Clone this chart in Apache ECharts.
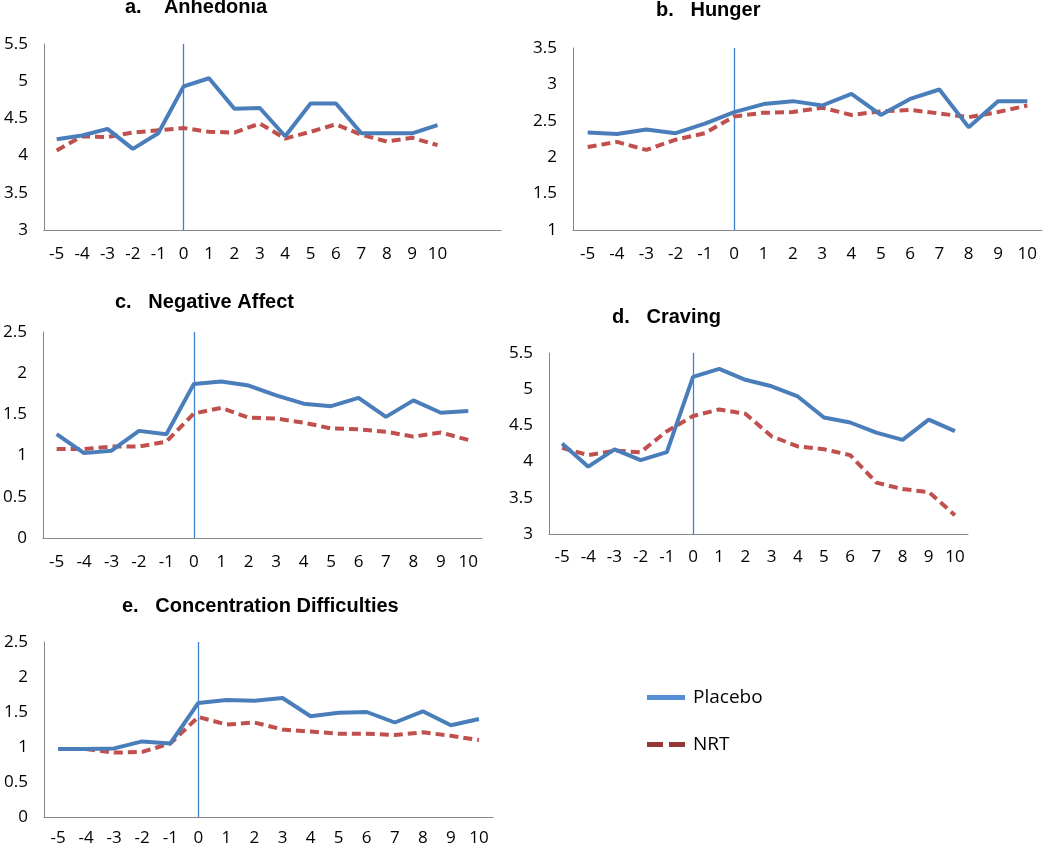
<!DOCTYPE html>
<html><head><meta charset="utf-8">
<script src="https://cdn.jsdelivr.net/npm/echarts@6/dist/echarts.min.js"></script>
<style>html,body{margin:0;padding:0;background:#fff}#c{width:1050px;height:847px}</style>
</head><body><div id="c"></div>
<script>
const xLabels = ['-5','-4','-3','-2','-1','0','1','2','3','4','5','6','7','8','9','10'];
const xLabelsA = ['-5','-4','-3','-2','-1','0','1','2','3','4','5','6','7','8','9','10','',''];
const titles = ['a.    Anhedonia','b.   Hunger','c.   Negative Affect','d.   Craving','e.   Concentration Difficulties'];
const yMins = [3, 1, 0, 3, 0];
const yMaxs = [5.5, 3.5, 2.5, 5.5, 2.5];
const anhedoniaPlacebo = [4.22,4.27,4.36,4.09,4.30,4.93,5.04,4.63,4.64,4.26,4.70,4.70,4.30,4.30,4.30,4.41];
const anhedoniaNRT     = [4.07,4.26,4.25,4.31,4.34,4.37,4.32,4.31,4.43,4.23,4.32,4.42,4.28,4.19,4.24,4.14];
const hungerPlacebo = [2.34,2.32,2.38,2.33,2.46,2.62,2.73,2.77,2.71,2.87,2.58,2.80,2.93,2.41,2.77,2.77];
const hungerNRT     = [2.14,2.21,2.10,2.24,2.33,2.56,2.61,2.62,2.68,2.58,2.63,2.65,2.60,2.55,2.62,2.71];
const negAffectPlacebo = [1.26,1.03,1.06,1.30,1.26,1.87,1.90,1.85,1.73,1.63,1.60,1.70,1.47,1.67,1.52,1.54];
const negAffectNRT     = [1.08,1.08,1.11,1.11,1.17,1.51,1.58,1.46,1.45,1.40,1.33,1.32,1.29,1.23,1.28,1.19];
const cravingPlacebo = [4.25,3.93,4.17,4.02,4.13,5.17,5.28,5.13,5.04,4.90,4.61,4.54,4.40,4.30,4.58,4.42];
const cravingNRT     = [4.19,4.09,4.15,4.13,4.42,4.63,4.72,4.66,4.35,4.21,4.17,4.09,3.71,3.62,3.58,3.26];
const concPlacebo = [0.97,0.97,0.98,1.08,1.05,1.63,1.67,1.66,1.70,1.44,1.49,1.50,1.35,1.51,1.31,1.40];
const concNRT     = [0.97,0.97,0.92,0.93,1.05,1.43,1.32,1.35,1.25,1.22,1.19,1.19,1.17,1.21,1.16,1.10];

const placeboSets = [anhedoniaPlacebo, hungerPlacebo, negAffectPlacebo, cravingPlacebo, concPlacebo];
const nrtSets = [anhedoniaNRT, hungerNRT, negAffectNRT, cravingNRT, concNRT];
const catSets = [xLabelsA, xLabels, xLabels, xLabels, xLabels];

const grids = [
  {left:44, top:44, width:457, height:186},
  {left:573, top:48, width:469, height:182},
  {left:40, top:332, width:442, height:206},
  {left:549, top:353, width:419, height:181},
  {left:44, top:642, width:449, height:176}
];
const titlePos = [[125,-3],[656,0],[115,292],[612,307],[122,596]];
const xLabelMargin = [16,16,16,15,13];

const BLUE = '#4a7ebb', RED = '#c0504d', AX = '#868686';
const FONT = '"Open Sans", "Liberation Sans", sans-serif';

const xAxis = [], yAxis = [], series = [], title = [];
for (let i = 0; i < 5; i++) {
  title.push({text: titles[i], left: titlePos[i][0], top: titlePos[i][1], padding: 0,
    textStyle: {fontFamily: '"Liberation Sans", Arial, sans-serif', fontWeight: 'bold', fontSize: 20, color: '#000'}});
  xAxis.push({type: 'category', gridIndex: i, data: catSets[i], boundaryGap: true,
    axisLine: {show: true, lineStyle: {color: AX, width: 1}}, axisTick: {show: false},
    axisLabel: {interval: 0, margin: xLabelMargin[i], color: '#000', fontSize: 17, fontFamily: FONT},
    splitLine: {show: false}});
  yAxis.push({type: 'value', gridIndex: i, min: yMins[i], max: yMaxs[i], interval: 0.5,
    axisLine: {show: true, lineStyle: {color: AX, width: 1}}, axisTick: {show: false},
    axisLabel: {margin: 16, color: '#000', fontSize: 17, fontFamily: FONT},
    splitLine: {show: false}});
  series.push({name: 'NRT', type: 'line', xAxisIndex: i, yAxisIndex: i, data: nrtSets[i],
    symbol: 'none', z: 3,
    lineStyle: {color: RED, width: 4, type: [9, 5]}, itemStyle: {color: RED}});
  series.push({name: 'Placebo', type: 'line', xAxisIndex: i, yAxisIndex: i, data: placeboSets[i],
    symbol: 'none', z: 4,
    lineStyle: {color: BLUE, width: 4}, itemStyle: {color: BLUE},
    markLine: {silent: true, symbol: ['none','none'], label: {show: false}, z: 2,
      lineStyle: {color: '#3f7fd0', width: 1.3, type: 'solid', opacity: 1},
      emphasis: {disabled: true},
      data: [{xAxis: catSets[i].indexOf('0')}], animation: false}});
}

const chart = echarts.init(document.getElementById('c'), null, {renderer: 'canvas'});
chart.setOption({
  animation: false,
  backgroundColor: '#fff',
  title: title,
  grid: grids,
  xAxis: xAxis,
  yAxis: yAxis,
  series: series,
  legend: {
    orient: 'vertical', left: 642, top: 683, itemWidth: 38, itemHeight: 5, itemGap: 28,
    selectedMode: false,
    textStyle: {fontSize: 19, fontFamily: FONT, color: '#000', padding: [0,0,0,3]},
    data: [
      {name: 'Placebo', icon: 'rect', itemStyle: {color: '#558ed5'}},
      {name: 'NRT', icon: 'path://M0,0H16V5H0Z M22,0H38V5H22Z', itemStyle: {color: '#953735'}}
    ]
  }
});
</script></body></html>
